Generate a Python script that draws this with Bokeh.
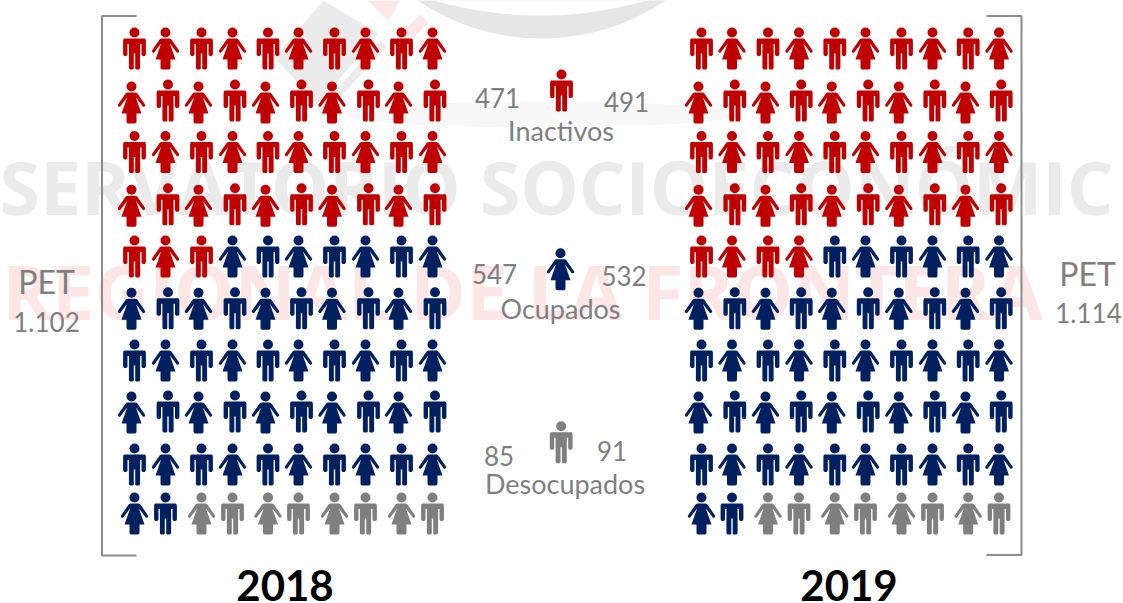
from bokeh.plotting import figure
from bokeh.models import Range1d, ColumnDataSource
from bokeh.core.properties import value
from bokeh.embed import file_html
from bokeh.resources import INLINE
import math

# ---- data ----
categories = ["Inactivos", "Ocupados", "Desocupados"]
years = ["2018", "2019"]
icons_2018 = [43, 49, 8]
icons_2019 = [44, 48, 8]
values_2018 = [471, 547, 85]
values_2019 = [491, 532, 91]
pet_label = "PET"
pet_totals = ["1.102", "1.114"]
watermark_1 = "SERVATORIO SOCIOECONÓMIC"
watermark_2 = "REGIONAL DE LA FRONTERA"

# ---- layout and style (pixel coordinates of the page) ----
RED, NAVY, GREY = "#c00000", "#002060", "#7f7f7f"
colours = [RED, NAVY, GREY]
TXT = "#7f7f7f"
FONT = "Lato"
cols_odd_2018 = [134, 165, 201, 232, 267.5, 298, 334, 365, 401, 432]
cols_even_2018 = [131, 167.5, 198, 234.5, 265, 301, 331.5, 368, 398, 434.5]
cols_odd_2019 = [701, 731.5, 767.5, 798.5, 834.3, 865, 901, 932, 967.7, 998.5]
cols_even_2019 = [698, 734.3, 765, 800.7, 831.3, 867.7, 898.3, 934.3, 965, 1000.7]
head_w = [27, 81, 130.5, 184.3, 235, 287.3, 339, 391, 443, 492]
head_m = [27, 79, 130.5, 182.7, 235, 286.7, 339, 390, 443, 492]


def rounded(pts):
    xs, ys = [], []
    n = len(pts)
    for i in range(n):
        x0, y0, _ = pts[i - 1]
        x1, y1, r = pts[i]
        x2, y2, _ = pts[(i + 1) % n]
        d0 = math.hypot(x0 - x1, y0 - y1)
        d2 = math.hypot(x2 - x1, y2 - y1)
        r0 = min(r, d0 / 2)
        r2 = min(r, d2 / 2)
        ax, ay = x1 + (x0 - x1) * r0 / d0, y1 + (y0 - y1) * r0 / d0
        bx, by = x1 + (x2 - x1) * r2 / d2, y1 + (y2 - y1) * r2 / d2
        for k in range(7):
            t = k / 6
            xs.append((1 - t) ** 2 * ax + 2 * t * (1 - t) * x1 + t ** 2 * bx)
            ys.append((1 - t) ** 2 * ay + 2 * t * (1 - t) * y1 + t ** 2 * by)
    return xs, ys


def mirror(right):
    left = [(-x, y, r) for x, y, r in reversed(right)]
    return right + left


MAN = rounded(mirror([
    (8.0, 11, 3), (11.4, 11, 3), (11.4, 28.5, 2.2), (7.0, 28.5, 2.2), (7.0, 16.5, 0.3),
    (5.6, 16.5, 0.3), (5.6, 42, 2), (0.7, 42, 1.5), (0.7, 26, 0.2),
]))
WOMAN = rounded(mirror([
    (2.8, 11, 1), (5.4, 11.2, 1.5), (14.2, 24.0, 1.5), (11.8, 25.8, 1.5), (4.5, 16.2, 0.2),
    (10.0, 32, 0.3), (5.0, 32, 0.3), (5.0, 42, 2.2),
]))

people = {"x": [], "y": [], "c": []}
heads = {"x": [], "y": [], "c": []}


def person(cx, top, woman, colour):
    tx, ty = WOMAN if woman else MAN
    people["x"].append([cx + v for v in tx])
    people["y"].append([top + v for v in ty])
    people["c"].append(colour)
    heads["x"].append(cx)
    heads["y"].append(top + 5)
    heads["c"].append(colour)


def grid(counts, odd, even):
    seq = [c for c, n in zip(colours, counts) for _ in range(n)]
    i = 0
    for r in range(10):
        for c in range(10):
            # rows alternate man-first / woman-first; the last row is woman-first on the odd columns
            if r == 9:
                xs, woman = odd, c % 2 == 0
            elif r % 2 == 0:
                xs, woman = odd, c % 2 == 1
            else:
                xs, woman = even, c % 2 == 0
            person(xs[c], (head_w if woman else head_m)[r], woman, seq[i])
            i += 1


grid(icons_2018, cols_odd_2018, cols_even_2018)
grid(icons_2019, cols_odd_2019, cols_even_2019)
# legend icons
person(561, 69, False, RED)
person(560, 247.7, True, NAVY)
person(560.7, 420.7, False, GREY)

p = figure(width=1123, height=603, output_backend="svg", toolbar_location=None,
           x_range=Range1d(0, 1123), y_range=Range1d(603, 0), min_border=0,
           outline_line_color=None, background_fill_color="white",
           x_axis_type=None, y_axis_type=None)
p.grid.visible = False
p.styles = {"position": "absolute", "left": "0px", "top": "0px"}

# faint logo behind the chart
WM = "#ebebeb"
p.ellipse(x=[540], y=[114], width=[390], height=[26], fill_color="#f8f8f8", line_color=None)
p.circle(x=[541], y=[-183], radius=221, fill_color="#e6e6e6", line_color=None)
p.circle(x=[540], y=[-374], radius=389, fill_color="white", line_color=None)
p.patches(xs=[[323, 378, 317, 274], [380, 386, 322, 317]],
          ys=[[0, 33, 104, 57], [40, 46, 116, 110]], fill_color=WM, line_color=None)
p.patches(xs=[[367, 400, 388], [420, 428, 408, 400]],
          ys=[[0, 0, 20], [14, 22, 42, 34]], fill_color="#fce8e8", line_color=None)

# the svg text sits this many ems below the requested alphabetic line
BASE = {"Lato": 0.36, "Open Sans": 0.43}


def text_at(x, y, t, px, colour, style="normal", font=FONT):
    p.text(x=[x], y=[y - BASE[font] * px], text=[str(t)], text_font=value(font), text_font_size=f"{px}px",
           text_font_style=style, text_color=colour, text_align="center", text_baseline="alphabetic")


text_at(556, 217.5, watermark_1, 73.5, WM, "bold", "Open Sans")
text_at(522, 322, watermark_2, 75.5, "#fde6e6", "bold", "Open Sans")

# brackets
p.line(x=[136, 101.5, 101.5, 136], y=[15.5, 15.5, 555, 555], line_color="#8c8c8c", line_width=2)
p.line(x=[986, 1021, 1021, 986], y=[15.5, 15.5, 554.5, 554.5], line_color="#8c8c8c", line_width=2)

# pictograms
p.patches(xs="x", ys="y", fill_color="c", line_color=None, source=ColumnDataSource(people))
p.circle(x="x", y="y", radius=5, fill_color="c", line_color=None, source=ColumnDataSource(heads))

# legend texts
for cat, x, y in zip(categories, [560.5, 560, 564.5], [140, 318, 493]):
    text_at(x, y, cat, 27, TXT)
for v, x, y in zip(values_2018, [497, 494, 498.5], [107, 282.5, 465]):
    text_at(x, y, v, 26, TXT)
for v, x, y in zip(values_2019, [626, 623.5, 611.5], [110.5, 285, 460]):
    text_at(x, y, v, 26, TXT)

# PET
text_at(46, 293, pet_label, 32, TXT)
text_at(46, 331, pet_totals[0], 26, TXT)
text_at(1087, 285, pet_label, 32, TXT)
text_at(1088, 322, pet_totals[1], 26, TXT)

# years
text_at(284.5, 600.5, years[0], 42, "black", "bold")
text_at(848.5, 600.5, years[1], 42, "black", "bold")

open("out.html", "w").write(file_html(p, INLINE))
